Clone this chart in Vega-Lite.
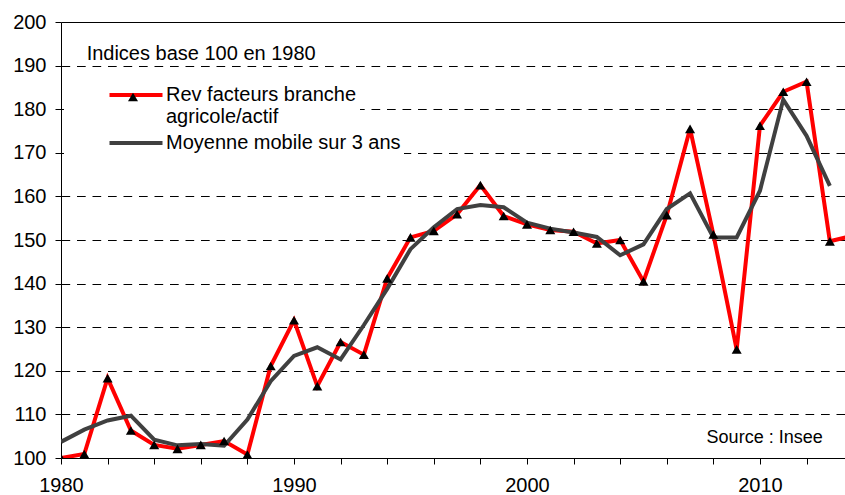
{
  "$schema": "https://vega.github.io/schema/vega-lite/v6.json",
  "width": 784,
  "height": 436,
  "autosize": "none",
  "padding": {"left": 61, "top": 22, "right": 0, "bottom": 37},
  "background": "white",
  "config": {
    "font": "Liberation Sans",
    "view": {"stroke": null},
    "axis": {
      "domainColor": "black",
      "domainWidth": 1,
      "tickColor": "black",
      "tickWidth": 1,
      "labelColor": "black",
      "labelFont": "Liberation Sans",
      "labelFontSize": 20,
      "labelOverlap": false,
      "title": null
    },
    "axisX": {
      "values": [1980,1981,1982,1983,1984,1985,1986,1987,1988,1989,1990,1991,1992,1993,1994,1995,1996,1997,1998,1999,2000,2001,2002,2003,2004,2005,2006,2007,2008,2009,2010,2011,2012,2013],
      "format": "d",
      "labelExpr": "datum.value % 5 == 0 ? datum.label : ''",
      "tickSize": 6,
      "labelPadding": 11,
      "labelFlush": false,
      "labelOverlap": false,
      "grid": false
    },
    "axisY": {
      "values": [100,110,120,130,140,150,160,170,180,190,200],
      "format": "d",
      "tickSize": 6,
      "labelPadding": 9,
      "labelOverlap": false,
      "grid": true,
      "gridColor": "black",
      "gridOpacity": 1,
      "gridWidth": 1,
      "gridDash": {"condition": {"test": "datum.value == 200", "value": []}, "value": [8.7, 6.8]}
    },
    "legend": {
      "orient": "none",
      "title": null,
      "labelFont": "Liberation Sans",
      "labelFontSize": 20,
      "labelColor": "black",
      "labelLimit": 400
    }
  },
  "datasets": {
    "series": [
      {"year": 1980, "s": "rev", "v": 100.0},
      {"year": 1981, "s": "rev", "v": 100.9},
      {"year": 1982, "s": "rev", "v": 118.3},
      {"year": 1983, "s": "rev", "v": 106.3},
      {"year": 1984, "s": "rev", "v": 103.0},
      {"year": 1985, "s": "rev", "v": 102.1},
      {"year": 1986, "s": "rev", "v": 103.0},
      {"year": 1987, "s": "rev", "v": 103.9},
      {"year": 1988, "s": "rev", "v": 100.8},
      {"year": 1989, "s": "rev", "v": 121.1},
      {"year": 1990, "s": "rev", "v": 131.6},
      {"year": 1991, "s": "rev", "v": 116.5},
      {"year": 1992, "s": "rev", "v": 126.6},
      {"year": 1993, "s": "rev", "v": 123.7},
      {"year": 1994, "s": "rev", "v": 141.2},
      {"year": 1995, "s": "rev", "v": 150.6},
      {"year": 1996, "s": "rev", "v": 152.1},
      {"year": 1997, "s": "rev", "v": 155.9},
      {"year": 1998, "s": "rev", "v": 162.6},
      {"year": 1999, "s": "rev", "v": 155.5},
      {"year": 2000, "s": "rev", "v": 153.6},
      {"year": 2001, "s": "rev", "v": 152.3},
      {"year": 2002, "s": "rev", "v": 151.9},
      {"year": 2003, "s": "rev", "v": 149.2},
      {"year": 2004, "s": "rev", "v": 150.0},
      {"year": 2005, "s": "rev", "v": 140.5},
      {"year": 2006, "s": "rev", "v": 155.7},
      {"year": 2007, "s": "rev", "v": 175.5},
      {"year": 2008, "s": "rev", "v": 151.3},
      {"year": 2009, "s": "rev", "v": 124.9},
      {"year": 2010, "s": "rev", "v": 176.2},
      {"year": 2011, "s": "rev", "v": 184.0},
      {"year": 2012, "s": "rev", "v": 186.3},
      {"year": 2013, "s": "rev", "v": 149.7},
      {"year": 2014, "s": "rev", "v": 151.0},
      {"year": 1980, "s": "moy", "v": 103.7},
      {"year": 1981, "s": "moy", "v": 106.5},
      {"year": 1982, "s": "moy", "v": 108.6},
      {"year": 1983, "s": "moy", "v": 109.7},
      {"year": 1984, "s": "moy", "v": 104.2},
      {"year": 1985, "s": "moy", "v": 102.9},
      {"year": 1986, "s": "moy", "v": 103.2},
      {"year": 1987, "s": "moy", "v": 102.8},
      {"year": 1988, "s": "moy", "v": 108.8},
      {"year": 1989, "s": "moy", "v": 117.6},
      {"year": 1990, "s": "moy", "v": 123.4},
      {"year": 1991, "s": "moy", "v": 125.4},
      {"year": 1992, "s": "moy", "v": 122.6},
      {"year": 1993, "s": "moy", "v": 130.5},
      {"year": 1994, "s": "moy", "v": 138.8},
      {"year": 1995, "s": "moy", "v": 147.9},
      {"year": 1996, "s": "moy", "v": 152.9},
      {"year": 1997, "s": "moy", "v": 157.1},
      {"year": 1998, "s": "moy", "v": 158.0},
      {"year": 1999, "s": "moy", "v": 157.5},
      {"year": 2000, "s": "moy", "v": 154.0},
      {"year": 2001, "s": "moy", "v": 152.6},
      {"year": 2002, "s": "moy", "v": 151.7},
      {"year": 2003, "s": "moy", "v": 150.7},
      {"year": 2004, "s": "moy", "v": 146.5},
      {"year": 2005, "s": "moy", "v": 149.0},
      {"year": 2006, "s": "moy", "v": 157.1},
      {"year": 2007, "s": "moy", "v": 160.7},
      {"year": 2008, "s": "moy", "v": 150.6},
      {"year": 2009, "s": "moy", "v": 150.6},
      {"year": 2010, "s": "moy", "v": 161.3},
      {"year": 2011, "s": "moy", "v": 182.2},
      {"year": 2012, "s": "moy", "v": 173.9},
      {"year": 2013, "s": "moy", "v": 162.4}
    ],
    "notes": [
      {"id": "title", "text": "Indices base 100 en 1980"},
      {"id": "source", "text": "Source : Insee"}
    ]
  },
  "layer": [
    {
      "data": {"name": "series"},
      "transform": [{"filter": "datum.s == 'rev'"}],
      "mark": {"type": "line", "strokeWidth": 4, "clip": true},
      "encoding": {
        "x": {"field": "year", "type": "quantitative", "scale": {"domain": [1980, 2013.65], "nice": false, "zero": false}, "axis": {"labelOverlap": false, "labelFlush": false, "format": "d", "labelExpr": "datum.value % 5 == 0 ? datum.label : ''"}},
        "y": {"field": "v", "type": "quantitative", "scale": {"domain": [100, 200], "nice": false, "zero": false}, "axis": {"labelOverlap": false, "format": "d"}},
        "color": {
          "field": "s",
          "type": "nominal",
          "scale": {"domain": ["rev"], "range": ["#ff0000"]},
          "legend": {
            "legendX": 3,
            "legendY": 60,
            "padding": 3,
            "fillColor": "white",
            "symbolType": "M-5,0H5",
            "symbolSize": 112.4,
            "symbolStrokeWidth": 4,
            "symbolOffset": 59,
            "labelOffset": 20,
            "labelExpr": "['Rev facteurs branche', 'agricole/actif']"
          }
        }
      }
    },
    {
      "data": {"name": "series"},
      "transform": [{"filter": "datum.s == 'moy'"}],
      "mark": {"type": "line", "strokeWidth": 4, "clip": true},
      "encoding": {
        "x": {"field": "year", "type": "quantitative", "axis": {"labelOverlap": false, "labelFlush": false, "format": "d", "labelExpr": "datum.value % 5 == 0 ? datum.label : ''"}},
        "y": {"field": "v", "type": "quantitative", "axis": {"labelOverlap": false, "format": "d"}},
        "stroke": {
          "field": "s",
          "type": "nominal",
          "scale": {"domain": ["moy"], "range": ["#404040"]},
          "legend": {
            "legendX": 3,
            "legendY": 108,
            "padding": 3,
            "fillColor": "white",
            "symbolType": "M-5,0H5",
            "symbolSize": 112.4,
            "symbolStrokeWidth": 4,
            "symbolOffset": 59,
            "labelOffset": 20,
            "labelExpr": "'Moyenne mobile sur 3 ans'"
          }
        }
      }
    },
    {
      "data": {"name": "series"},
      "transform": [{"filter": "datum.s == 'rev'"}],
      "mark": {"type": "point", "filled": true, "fill": "black", "opacity": 1, "size": 100, "clip": true},
      "encoding": {
        "x": {"field": "year", "type": "quantitative", "axis": {"labelOverlap": false, "labelFlush": false, "format": "d", "labelExpr": "datum.value % 5 == 0 ? datum.label : ''"}},
        "y": {"field": "v", "type": "quantitative", "axis": {"labelOverlap": false, "format": "d"}},
        "shape": {
          "datum": "tri",
          "scale": {"range": ["triangle-up"]},
          "legend": {
            "legendX": 67,
            "legendY": 70,
            "padding": 0,
            "labelExpr": "''",
            "labelFontSize": 1,
            "labelOffset": 0,
            "symbolSize": 100,
            "symbolFillColor": "black",
            "symbolStrokeWidth": 0
          }
        }
      }
    },
    {
      "data": {"name": "notes"},
      "transform": [{"filter": "datum.id == 'title'"}],
      "mark": {"type": "text", "align": "left", "baseline": "alphabetic", "fontSize": 20, "font": "Liberation Sans", "color": "black"},
      "encoding": {
        "x": {"datum": 1981.1, "type": "quantitative", "axis": {"labelOverlap": false, "labelFlush": false, "format": "d", "labelExpr": "datum.value % 5 == 0 ? datum.label : ''"}},
        "y": {"datum": 191.28, "type": "quantitative", "axis": {"labelOverlap": false, "format": "d"}},
        "text": {"field": "text"}
      }
    },
    {
      "data": {"name": "notes"},
      "transform": [{"filter": "datum.id == 'source'"}],
      "mark": {"type": "text", "align": "left", "baseline": "alphabetic", "fontSize": 18, "font": "Liberation Sans", "color": "black"},
      "encoding": {
        "x": {"datum": 2007.71, "type": "quantitative", "axis": {"labelOverlap": false, "labelFlush": false, "format": "d", "labelExpr": "datum.value % 5 == 0 ? datum.label : ''"}},
        "y": {"datum": 103.37, "type": "quantitative", "axis": {"labelOverlap": false, "format": "d"}},
        "text": {"field": "text"}
      }
    }
  ]
}
